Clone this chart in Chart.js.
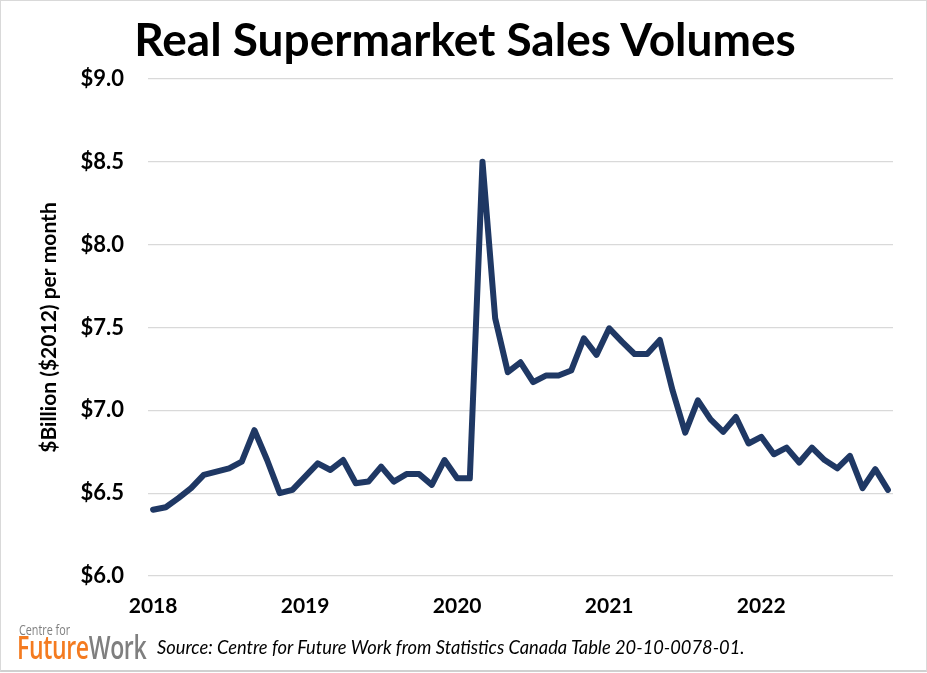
<!DOCTYPE html>
<html>
<head>
<meta charset="utf-8">
<script src="https://cdn.jsdelivr.net/npm/chart.js@4"></script>
<style>
  html, body { margin: 0; padding: 0; background: #fff; }
  #wrap { position: relative; width: 927px; height: 673px; overflow: hidden; }
  #frame { position: absolute; left: 0; top: 0; width: 925px; height: 669px; border: 1px solid #d9d9d9; border-bottom: 2px solid #d0d0d0; pointer-events: none; }
  canvas { position: absolute; left: 0; top: 0; }
  #title { position: absolute; left: 0; top: 11px; width: 930px; text-align: center; font-family: Lato, sans-serif; font-weight: 700; font-size: 46px; color: #000; white-space: nowrap; }
  #centre { position: absolute; left: 19px; top: 619px; font-family: "Open Sans", sans-serif; font-size: 15px; color: #808080; transform: scaleX(0.72); transform-origin: left top; white-space: nowrap; }
  #fw { position: absolute; left: 17px; top: 628px; font-family: "Open Sans", sans-serif; font-weight: 600; font-size: 32px; letter-spacing: -0.5px; transform: scaleX(0.72); transform-origin: left top; white-space: nowrap; line-height: 1.2; }
  #fw .f { color: #f47b20; }
  #fw .w { color: #7f7f7f; }
  #src { position: absolute; left: 157px; top: 636px; font-family: Lato, sans-serif; font-style: italic; font-size: 18.3px; color: #000; white-space: nowrap; }
</style>
</head>
<body>
<div id="wrap">
  <canvas id="c" width="927" height="673"></canvas>
  <div id="title">Real Supermarket Sales Volumes</div>
  <div id="centre">Centre for</div>
  <div id="fw"><span class="f">Future</span><span class="w">Work</span></div>
  <div id="src">Source: Centre for Future Work from Statistics Canada Table 20-10-0078-01.</div>
  <div id="frame"></div>
</div>
<script>
// Monthly, Jan 2018 – Nov 2022
const months = [
  "2018-01","2018-02","2018-03","2018-04","2018-05","2018-06","2018-07","2018-08","2018-09","2018-10","2018-11","2018-12",
  "2019-01","2019-02","2019-03","2019-04","2019-05","2019-06","2019-07","2019-08","2019-09","2019-10","2019-11","2019-12",
  "2020-01","2020-02","2020-03","2020-04","2020-05","2020-06","2020-07","2020-08","2020-09","2020-10","2020-11","2020-12",
  "2021-01","2021-02","2021-03","2021-04","2021-05","2021-06","2021-07","2021-08","2021-09","2021-10","2021-11","2021-12",
  "2022-01","2022-02","2022-03","2022-04","2022-05","2022-06","2022-07","2022-08","2022-09","2022-10","2022-11"
];
const salesBillions = [
  6.40, 6.415, 6.47, 6.53, 6.61, 6.63, 6.65, 6.69, 6.88, 6.70, 6.50, 6.52,
  6.60, 6.68, 6.64, 6.70, 6.56, 6.57, 6.66, 6.57, 6.615, 6.615, 6.55, 6.70,
  6.59, 6.59, 8.50, 7.556, 7.23, 7.29, 7.17, 7.21, 7.21, 7.24, 7.435, 7.335,
  7.495, 7.415, 7.34, 7.34, 7.425, 7.12, 6.865, 7.06, 6.945, 6.87, 6.96, 6.80,
  6.84, 6.735, 6.775, 6.685, 6.775, 6.70, 6.65, 6.725, 6.53, 6.645, 6.52
];
const yearLabels = ["2018", "2019", "2020", "2021", "2022"];
const yTicks = [6.0, 6.5, 7.0, 7.5, 8.0, 8.5, 9.0];

const points = salesBillions.map((v, i) => ({ x: i, y: v }));

new Chart(document.getElementById('c'), {
  type: 'line',
  data: {
    datasets: [{
      data: points,
      borderColor: '#1f3864',
      borderWidth: 6,
      borderJoinStyle: 'round',
      borderCapStyle: 'round',
      pointRadius: 0,
      tension: 0,
      fill: false
    }]
  },
  options: {
    responsive: false,
    animation: false,
    layout: { padding: { left: 0, right: 34, top: 79, bottom: 53 } },
    plugins: { legend: { display: false }, tooltip: { enabled: false } },
    scales: {
      x: {
        type: 'linear',
        min: -0.4,
        max: 58.4,
        afterBuildTicks: (s) => { s.ticks = yearLabels.map((_, i) => ({ value: i * 12 })); },
        afterFit: (s) => { s.height = 44; },
        grid: { display: false, drawTicks: false },
        border: { display: false },
        ticks: {
          padding: 18,
          color: '#000',
          font: { family: 'Lato', weight: 'bold', size: 21 },
          callback: (v) => yearLabels[Math.round(v / 12)],
          maxRotation: 0
        }
      },
      y: {
        min: 6.0,
        max: 9.0,
        afterBuildTicks: (s) => { s.ticks = yTicks.map(v => ({ value: v })); },
        afterFit: (s) => { s.width = 148; },
        grid: { color: '#d9d9d9', lineWidth: 1.3, drawTicks: false },
        border: { display: false },
        ticks: {
          padding: 24,
          color: '#000',
          font: { family: 'Lato', weight: 'bold', size: 22 },
          callback: (v) => '$' + Number(v).toFixed(1)
        },
        title: {
          display: true,
          text: '$Billion ($2012) per month',
          color: '#000',
          font: { family: 'Lato', weight: 'bold', size: 21 },
          padding: { top: 37, bottom: 0 }
        }
      }
    }
  }
});
</script>
</body>
</html>
